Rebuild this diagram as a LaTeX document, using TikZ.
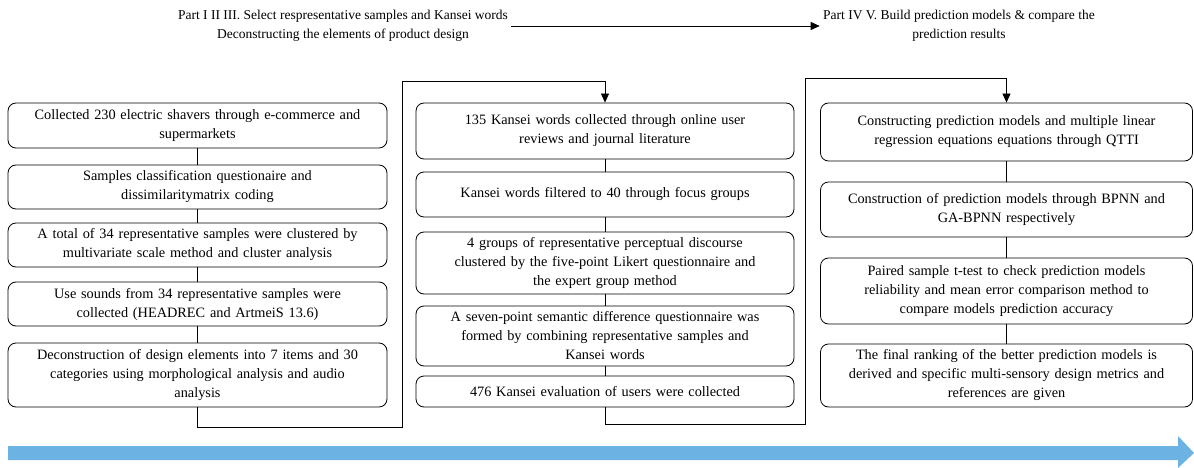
\documentclass[tikz,border=0pt]{standalone}
\usepackage{fontspec}
\setmainfont{Liberation Serif}
\usetikzlibrary{arrows.meta}
\definecolor{flowblue}{HTML}{6CB2E3}
\begin{document}
\begin{tikzpicture}[x=1pt,y=-1pt,
  stepbox/.style={draw,line width=0.8pt,rounded corners=8pt,align=center,inner sep=2pt,
    font=\fontsize{14.3}{19}\selectfont},
  lbox/.style={stepbox,minimum width=379pt,text width=372pt},
  mbox/.style={stepbox,minimum width=378pt,text width=372pt},
  rbox/.style={stepbox,minimum width=372pt,text width=366pt},
  conn/.style={line width=0.8pt},
  arr/.style={conn,-{Triangle[length=9pt,width=8pt]}},
  toptext/.style={align=center,font=\fontsize{13.5}{19}\selectfont}]
\useasboundingbox (0,0) rectangle (1194,468);
% top texts
\node[toptext] (t1) at (343,26) {Part I II III. Select respresentative samples and Kansei words\\Deconstructing the elements of product design};
\node[toptext] (t2) at (959,26) {Part IV V. Build prediction models \& compare the\\prediction results};
\draw[arr] (t1.east) -- (t2.west);
% left column
\node[lbox,minimum height=45pt] (l1) at (197.5,125.5) {Collected 230 electric shavers through e-commerce and\\supermarkets};
\node[lbox,minimum height=44pt] (l2) at (197.5,187) {Samples classification questionaire and\\dissimilaritymatrix coding};
\node[lbox,minimum height=44pt] (l3) at (197.5,245) {A total of 34 representative samples were clustered by\\multivariate scale method and cluster analysis};
\node[lbox,minimum height=44pt] (l4) at (197.5,304) {Use sounds from 34 representative samples were\\collected (HEADREC and ArtmeiS 13.6)};
\node[lbox,minimum height=64pt] (l5) at (197.5,375) {Deconstruction of design elements into 7 items and 30\\categories using morphological analysis and audio\\analysis};
\draw[conn] (l1) -- (l2); \draw[conn] (l2) -- (l3); \draw[conn] (l3) -- (l4); \draw[conn] (l4) -- (l5);
% middle column
\node[mbox,minimum height=56pt] (m1) at (605,131) {135 Kansei words collected through online user\\reviews and journal literature};
\node[mbox,minimum height=45pt] (m2) at (605,194.5) {Kansei words filtered to 40 through focus groups};
\node[mbox,minimum height=62pt] (m3) at (605,263) {4 groups of representative perceptual discourse\\clustered by the five-point Likert questionnaire and\\the expert group method};
\node[mbox,minimum height=60pt] (m4) at (605,336) {A seven-point semantic difference questionnaire was\\formed by combining representative samples and\\Kansei words};
\node[mbox,minimum height=31pt] (m5) at (605,391.5) {476 Kansei evaluation of users were collected};
\draw[conn] (m1) -- (m2); \draw[conn] (m2) -- (m3); \draw[conn] (m3) -- (m4); \draw[conn] (m4) -- (m5);
% right column
\node[rbox,minimum height=58pt] (r1) at (1006.5,132) {Constructing prediction models and multiple linear\\regression equations equations through QTTI};
\node[rbox,minimum height=55pt] (r2) at (1006.5,209.5) {Construction of prediction models through BPNN and\\GA-BPNN respectively};
\node[rbox,minimum height=66pt] (r3) at (1006.5,291) {Paired sample t-test to check prediction models\\reliability and mean error comparison method to\\compare models prediction accuracy};
\node[rbox,minimum height=63pt] (r4) at (1006.5,375.5) {The final ranking of the better prediction models is\\derived and specific multi-sensory design metrics and\\references are given};
\draw[conn] (r1) -- (r2); \draw[conn] (r2) -- (r3); \draw[conn] (r3) -- (r4);
% elbow connectors
\coordinate (a1) at (197.5,427);
\coordinate (a2) at (402,427);
\coordinate (a3) at (402,81);
\coordinate (a4) at (605,81);
\draw[arr] (l5.south) -- (a1) -- (a2) -- (a3) -- (a4) -- (m1.north);
\coordinate (b1) at (605,424);
\coordinate (b2) at (805,424);
\coordinate (b3) at (805,78);
\coordinate (b4) at (1006.5,78);
\draw[arr] (m5.south) -- (b1) -- (b2) -- (b3) -- (b4) -- (r1.north);
% blue progress arrow
\fill[flowblue] (8,446) -- (1178,446) -- (1178,436) -- (1194,453) -- (1178,468) -- (1178,460) -- (8,460) -- cycle;
\end{tikzpicture}
\end{document}
